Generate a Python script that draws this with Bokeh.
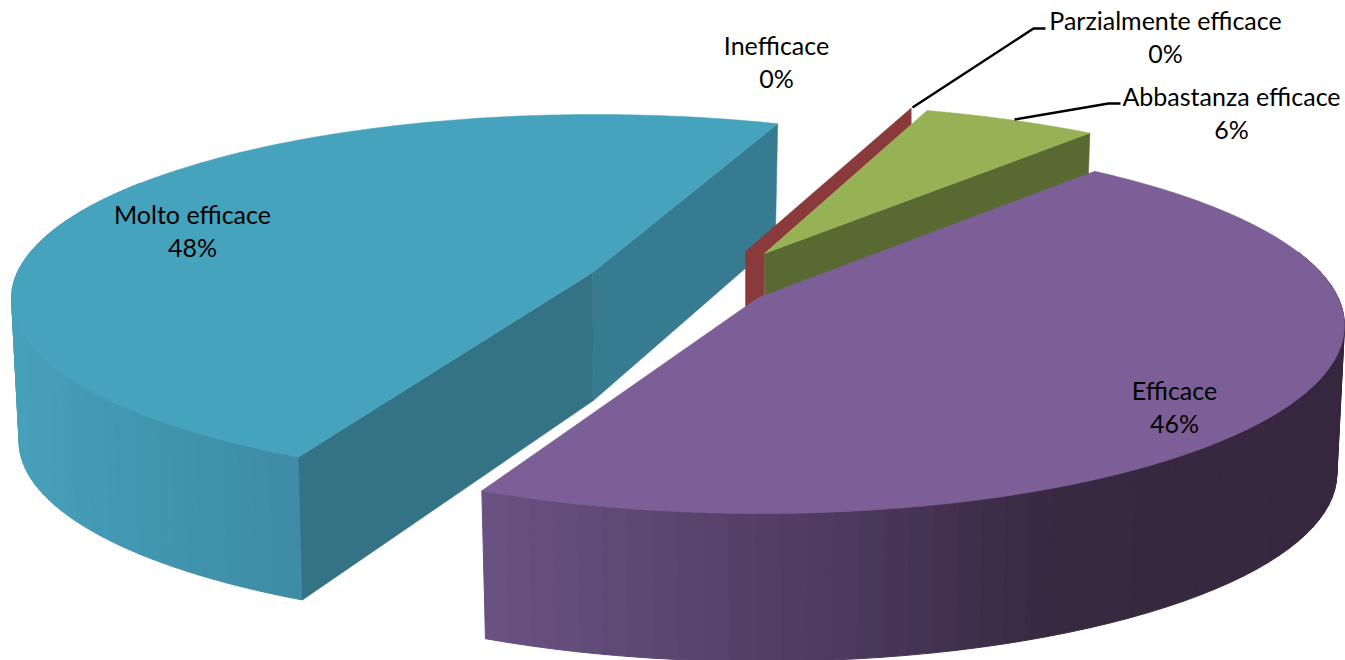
import numpy as np
from bokeh.plotting import figure
from bokeh.models import Range1d, ColumnDataSource
from bokeh.core.properties import value
from bokeh.embed import file_html
from bokeh.resources import INLINE

# ---- data ----
categories = ["Inefficace", "Parzialmente efficace", "Abbastanza efficace", "Efficace", "Molto efficace"]
percent = [0.0, 0.3, 5.6, 45.7, 48.4]

# ---- styling / view ----
START = 18.8
TOP = {"Inefficace": "#4F81BD", "Parzialmente efficace": "#8A3A3A", "Abbastanza efficace": "#97B255",
       "Efficace": "#7D5F97", "Molto efficace": "#46A3BD"}
# slice view: ellipse centre x, y, half height, apex offset y, apex offset x, wall height, perspective turn, half width
VIEW = {"Parzialmente efficace": (745, 284, 184, -33, 0, 145, 0.9, 584),
        "Abbastanza efficace": (762, 287, 184, -34, 2, 145, -0.8, 602),
        "Efficace": (760, 325, 188, -28, -2, 148, 0.1, 584),
        "Molto efficace": (595, 298, 184, -26, -3, 143, 2.1, 584)}
SHRINK = 0.987
APEX_T = 128.0
FONT = "Lato"
FS = "25px"

p = figure(width=1345, height=660, output_backend="svg", toolbar_location=None,
           x_range=Range1d(0, 1345), y_range=Range1d(660, 0), min_border=0,
           background_fill_color="white", border_fill_color="white", outline_line_color=None)
p.axis.visible = False
p.grid.visible = False


def thick(name, Y):
    h = VIEW[name][5]
    return np.interp(Y, [-1, 0, 0.1, 1], [118, APEX_T, h, h])


def rim(name, deg):
    cx, cy, b, d, ax, h, turn, rx = VIEW[name]
    k = d / b
    A = rx * np.sqrt(1 - k * k)
    t = np.radians(np.asarray(deg, dtype=float) + turn)
    X, Y = np.sin(t), -np.cos(t)
    w = 1 + k * Y
    return cx + A * X / w, cy + (b * Y + d) / w, Y


def under(name, x, y, Y):
    cx = VIEW[name][0]
    return cx + SHRINK * (x - cx), y + thick(name, Y)


def apex(name):
    cx, cy, b, d, ax = VIEW[name][:5]
    return cx + ax, cy + d


def top_face(name, a0, a1, color):
    deg = np.linspace(a0, a1, 160)
    x, y, _ = rim(name, deg)
    ax, ay = apex(name)
    p.patch(np.r_[ax, x], np.r_[ay, y], fill_color=color, line_color=color, line_width=0.5)


def cut_face(name, deg, color):
    x, y, Y = rim(name, [deg])
    bx, by = under(name, x, y, Y)
    ax, ay = apex(name)
    p.patch([ax, x[0], bx[0], ax + 1], [ay, y[0], by[0], ay + APEX_T],
            fill_color=color, line_color=color, line_width=0.5)


def wall(name, a0, a1, stops, colors):
    deg = np.linspace(a0, a1, 60)
    x, y, Y = rim(name, deg)
    bx, by = under(name, x, y, Y)
    rgb = np.array([[int(c[i:i + 2], 16) for i in (1, 3, 5)] for c in colors], dtype=float)
    xs, ys, cs = [], [], []
    for i in range(len(deg) - 1):
        xs.append([x[i], x[i + 1], bx[i + 1], bx[i]])
        ys.append([y[i], y[i + 1], by[i + 1], by[i]])
        m = (bx[i] + bx[i + 1]) / 2
        c = [np.interp(m, stops, rgb[:, j]) for j in range(3)]
        cs.append("#%02x%02x%02x" % tuple(int(round(v)) for v in c))
    p.patches("xs", "ys", fill_color="c", line_color="c", line_width=1.0,
              source=ColumnDataSource(dict(xs=xs, ys=ys, c=cs)))


# ---- slice angles from the values ----
span = 360.0 * np.array(percent) / sum(percent)
ends = START + np.cumsum(span)
starts = ends - span
ang = {c: (s, e) for c, s, e in zip(categories, starts, ends)}

# Molto efficace
n = "Molto efficace"
wall(n, ang[n][0], 300, [20, 150, 300], ["#47A0BA", "#4196B1", "#3E8CA4"])
cut_face(n, ang[n][1], "#367B90")
cut_face(n, ang[n][0], "#337385")
top_face(n, *ang[n], TOP[n])

# Parzialmente efficace: the thin band seen edge on
n = "Parzialmente efficace"
px, py, _ = rim(n, [ang[n][0]])
ax, ay = apex(n)
p.patch([ax, px[0], px[0], ax + 19, ax + 19, ax],
        [ay, py[0], py[0] + 17, ay + 2, ay + 44, ay + 56],
        fill_color=TOP[n], line_color=TOP[n], line_width=0.5)

# Abbastanza efficace
n = "Abbastanza efficace"
cut_face(n, ang[n][1], "#586A31")
top_face(n, *ang[n], TOP[n])

# Efficace
n = "Efficace"
wall(n, ang[n][0] + 35, ang[n][1], [485, 840, 1050, 1340], ["#6A5283", "#4D3A5E", "#382840", "#36273F"])
top_face(n, *ang[n], TOP[n])

# ---- leader lines ----
p.line([912, 1033, 1045], [107, 28, 28], line_color="black", line_width=2.5)
p.line([1014, 1108, 1120], [119, 103, 103], line_color="black", line_width=2.5)

# ---- labels ----
LABEL_AT = {"Inefficace": (776, 44, 77), "Parzialmente efficace": (1165, 19, 52),
            "Abbastanza efficace": (1231, 95, 128), "Efficace": (1174, 389, 422),
            "Molto efficace": (192, 213, 246)}
tx, ty, tt = [], [], []
for c, v in zip(categories, percent):
    lx, l1, l2 = LABEL_AT[c]
    tx += [lx, lx]
    ty += [l1, l2]
    tt += [c, f"{round(v)}%"]
p.text(tx, ty, text=tt, text_align="center", text_baseline="middle", text_color="black",
       text_font=value(FONT), text_font_size=FS)

open("out.html", "w").write(file_html(p, INLINE))
